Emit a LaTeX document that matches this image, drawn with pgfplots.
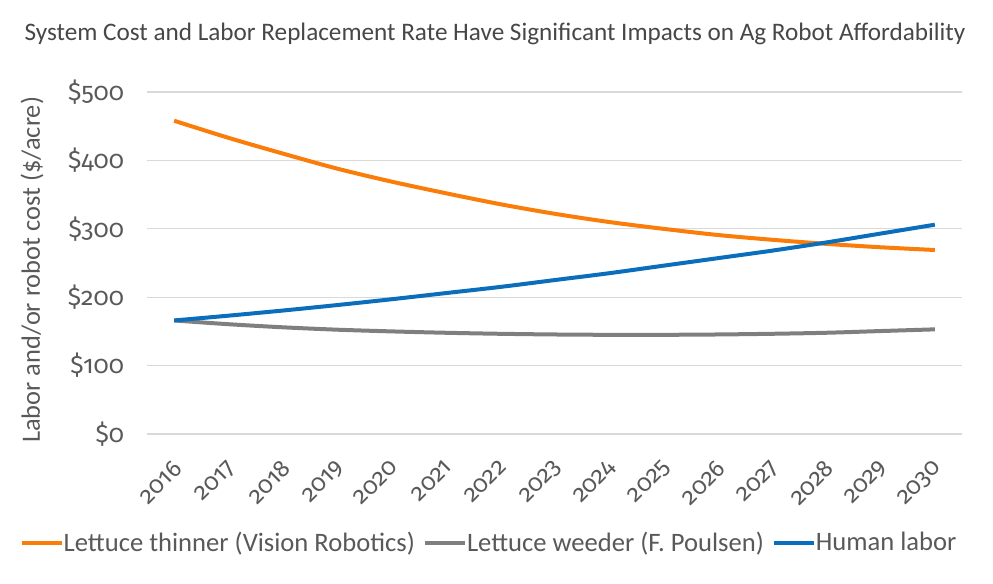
\documentclass[border=0pt]{standalone}
\usepackage{fontspec}
\setmainfont{Carlito}
\newfontfamily\oldnums[Numbers=OldStyle]{Fira Sans}
\usepackage{pgfplots}
\pgfplotsset{compat=1.18}

\definecolor{thinner}{HTML}{FA7D0A}
\definecolor{weeder}{HTML}{7F7F7F}
\definecolor{labor}{HTML}{0A6EBD}
\definecolor{txt}{HTML}{595959}
\definecolor{gridc}{HTML}{D9D9D9}

\begin{document}
\begin{tikzpicture}
\begin{axis}[
    scale only axis,
    width=407.5pt, height=171pt,
    xmin=2015.5, xmax=2030.5,
    ymin=0, ymax=500,
    xtick={2016,...,2030},
    ytick={0,100,...,500},
    axis line style={draw=none},
    major tick length=0pt,
    ymajorgrids=true, xmajorgrids=false,
    major grid style={draw=gridc, line width=0.6pt},
    /pgf/number format/assume math mode=true,
    xticklabel={\oldnums\pgfmathprintnumber[1000 sep=]{\tick}},
    yticklabel={\oldnums\$\pgfmathprintnumber{\tick}},
    x tick label style={font=\fontsize{12}{14}\selectfont, text=txt, rotate=45, anchor=north east, yshift=-4.4pt, xshift=-6.1pt},
    y tick label style={font=\fontsize{12.5}{15}\selectfont, text=txt, xshift=-8pt},
    ylabel={Labor and/or robot cost (\$/acre)},
    ylabel style={font=\fontsize{13.2}{15}\selectfont, text=txt, at={(axis description cs:-0.141,0.48)}, anchor=center},
    legend style={at={(axis description cs:0.421,-0.319)}, anchor=center, draw=none,
        font=\fontsize{13.3}{15}\selectfont, text=txt, legend columns=3,
        /tikz/every even column/.append style={column sep=2pt},
        /tikz/every odd column/.append style={column sep=-2pt}},
    legend image code/.code={\draw[#1, line width=2pt] (0pt,0pt) -- (20pt,0pt);},
    every axis plot/.append style={line width=2pt, smooth},
]
\addplot[thinner] coordinates {
    (2016,458) (2017,433) (2018,410) (2019,388) (2020,369) (2021,352)
    (2022,336) (2023,322) (2024,310) (2025,300) (2026,291) (2027,284)
    (2028,278) (2029,273) (2030,269)
};
\addlegendentry{Lettuce thinner (Vision Robotics)}
\addplot[weeder] coordinates {
    (2016,166) (2017,160.5) (2018,156) (2019,152.5) (2020,150) (2021,148)
    (2022,146.5) (2023,145.5) (2024,145) (2025,145) (2026,145.5) (2027,146.5)
    (2028,148) (2029,150.5) (2030,153)
};
\addlegendentry{Lettuce weeder (F. Poulsen)}
\addplot[labor] coordinates {
    (2016,166) (2017,173) (2018,180.5) (2019,188.5) (2020,197) (2021,206)
    (2022,215) (2023,225) (2024,235) (2025,246) (2026,257) (2027,268)
    (2028,280) (2029,293) (2030,306)
};
\addlegendentry{Human labor}
\end{axis}
\node[font=\fontsize{12.6}{14}\selectfont, text=txt!80!black] at ([shift={(174pt,200pt)}]current axis.south west)
    {System Cost and Labor Replacement Rate Have Significant Impacts on Ag Robot Affordability};
\pgfresetboundingbox
\path[use as bounding box] ([shift={(-73.5pt,-75pt)}]current axis.south west) rectangle ([shift={(423pt,217pt)}]current axis.south west);
\end{tikzpicture}
\end{document}
